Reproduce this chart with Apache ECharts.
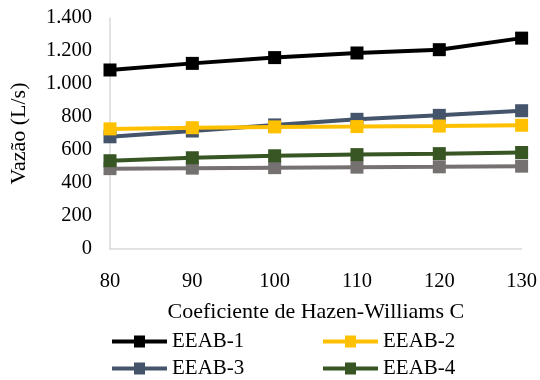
<!DOCTYPE html>
<html>
<head>
<meta charset="utf-8">
<script src="https://cdn.jsdelivr.net/npm/echarts@6/dist/echarts.min.js"></script>
<style>
  html, body { margin: 0; padding: 0; background: #fff; }
  #chart { width: 540px; height: 380px; }
</style>
</head>
<body>
<div id="chart"></div>
<script>
// Hazen-Williams roughness coefficient C
const coefC = [80, 90, 100, 110, 120, 130];
// Flow (L/s) per pumping station
const eeab1 = [1085, 1125, 1160, 1188, 1208, 1278];
const eeab2 = [728, 735, 740, 742, 745, 750];
const eeab3 = [680, 715, 752, 786, 810, 838];
const eeab4 = [535, 553, 565, 572, 578, 585];
const eeab5 = [487, 490, 493, 496, 498, 502];
const yTicks = [0, 200, 400, 600, 800, 1000, 1200, 1400];

const names = ['EEAB-1', 'EEAB-2', 'EEAB-3', 'EEAB-4', 'EEAB-5'];
const colors = ['#000000', '#ffc000', '#44546a', '#375623', '#767171'];
const values = [eeab1, eeab2, eeab3, eeab4, eeab5];

const font = 'Liberation Serif';

function fmt(v) {
  return String(v).replace(/\B(?=(\d{3})+(?!\d))/g, '.');
}

const series = values.map((vals, i) => ({
  name: names[i],
  type: 'line',
  data: vals.map((v, j) => [coefC[j], v]),
  symbol: 'rect',
  symbolSize: 13,
  lineStyle: { color: colors[i], width: 4 },
  itemStyle: { color: colors[i] },
  z: 10 - i
}));

// legend key: thick line with a square marker in the middle
const keyIcon = 'path://M0,4 L22,4 L22,0 L33,0 L33,4 L55,4 L55,8 L33,8 L33,12 L22,12 L22,8 L0,8 Z';

// one legend block per entry, laid out in two columns
const legendPos = [
  { left: 107, top: 326 },
  { left: 318, top: 326 },
  { left: 107, top: 353 },
  { left: 318, top: 353 }
];
const legends = legendPos.map((p, i) => ({
  data: [names[i]],
  left: p.left,
  top: p.top,
  itemWidth: 55,
  itemHeight: 12,
  itemGap: 0,
  icon: keyIcon,
  textStyle: { fontFamily: font, fontSize: 21, color: '#000' }
}));

const chart = echarts.init(document.getElementById('chart'), null, { renderer: 'canvas' });
chart.setOption({
  animation: false,
  backgroundColor: '#ffffff',
  grid: { left: 108, right: 18, top: 18, bottom: 131 },
  legend: legends,
  xAxis: {
    type: 'value',
    min: coefC[0],
    max: coefC[coefC.length - 1],
    interval: 10,
    name: 'Coeficiente de Hazen-Williams C',
    nameLocation: 'middle',
    nameGap: 52,
    nameTextStyle: { fontFamily: font, fontSize: 22, color: '#000' },
    axisLine: { show: true, lineStyle: { color: '#d9d9d9', width: 1.5 } },
    axisTick: { show: false },
    splitLine: { show: false },
    axisLabel: { fontFamily: font, fontSize: 20.5, color: '#000', margin: 22 }
  },
  yAxis: {
    type: 'value',
    min: yTicks[0],
    max: yTicks[yTicks.length - 1],
    interval: 200,
    name: 'Vazão (L/s)',
    nameLocation: 'middle',
    nameRotate: 90,
    nameGap: 80,
    nameTextStyle: { fontFamily: font, fontSize: 22, color: '#000' },
    axisLine: { show: true, lineStyle: { color: '#d9d9d9', width: 1.5 } },
    axisTick: { show: false },
    splitLine: { show: false },
    axisLabel: { fontFamily: font, fontSize: 20.5, color: '#000', margin: 18, formatter: fmt }
  },
  series: series
});
</script>
</body>
</html>
